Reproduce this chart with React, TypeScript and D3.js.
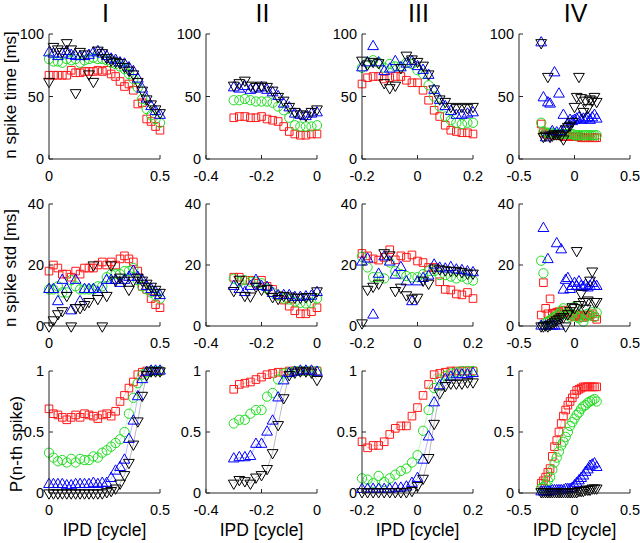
import * as d3 from 'd3';

// IPD sample positions (cycles) used by each column
const ipdI = [0, 0.02, 0.04, 0.06, 0.08, 0.1, 0.12, 0.14, 0.16, 0.18, 0.2, 0.22, 0.24, 0.26, 0.28, 0.3, 0.32, 0.34, 0.36, 0.38, 0.4, 0.42, 0.44, 0.46, 0.48, 0.5];
const ipdII = [-0.3, -0.28, -0.26, -0.24, -0.22, -0.2, -0.18, -0.16, -0.14, -0.12, -0.1, -0.08, -0.06, -0.04, -0.02, 0];
const ipdIII = [-0.2, -0.18, -0.16, -0.14, -0.12, -0.1, -0.08, -0.06, -0.04, -0.02, 0, 0.02, 0.04, 0.06, 0.08, 0.1, 0.12, 0.14, 0.16, 0.18, 0.2];
const ipdIV = [-0.3, -0.28, -0.26, -0.24, -0.22, -0.2, -0.18, -0.16, -0.14, -0.12, -0.1, -0.08, -0.06, -0.04, -0.02, 0, 0.02, 0.04, 0.06, 0.08, 0.1, 0.12, 0.14, 0.16, 0.18, 0.2];

// row 1: n spike time [ms]
const timeRedI = [67, 67, 67, 67, 67, 71, 69, 69, 70, 70, 70, 71, 70, 71, 68, 66, 62, 58, 60, 55, 44, 45, 32, 30, 26, 23];
const timeGreenI = [80, 78, 78, 77, 80, 79, 80, 77, 79, 80, 81, 80, 80, 79, 77, 76, 74, 72, 68, 64, 57, 48, 40, 35, 32, 29];
const timeBlueI = [85, 84, 82, 84, 86, 83, 82, 82, 82, 83, 85, 86, 84, 82, 80, 79, 77, 76, 73, 70, 64, 56, 48, 42, 38, 35];
const timeBlackI = [62, 90, 88, 86, 93, 88, 53, 86, 84, 68, 62, 87, 85, 81, 79, 78, 77, 74, 71, 68, 62, 55, 48, 44, 40, 37];

const timeRedII = [33, 34, 34, 33, 33, 34, 32, 31, 30, 26, 22, 20, 19, 19, 20, 20];
const timeGreenII = [47, 47, 48, 47, 46, 46, 46, 45, 42, 39, 33, 27, 26, 26, 26, 27];
const timeBlueII = [57, 56, 58, 55, 56, 57, 55, 53, 50, 44, 41, 36, 35, 34, 36, 37];
const timeBlackII = [59, 61, 63, 59, 58, 59, 58, 55, 50, 47, 42, 38, 36, 35, 38, 40];

const timeRedIII = [60, 65, 66, 66, 64, 65, 66, 66, 63, 61, 61, 55, 47, 39, 34, 27, 23, 22, 21, 21, 20];
const timeGreenIII = [73, 77, 79, 77, 73, 76, 74, 74, 77, 76, 71, 68, 59, 50, 42, 34, 31, 29, 28, 29, 29];
const timeBlueIII = [73, 77, 90, 77, 70, 72, 78, 73, 76, 78, 74, 71, 67, 55, 47, 42, 38, 35, 35, 36, 37];
const timeBlackIII = [79, 76, 78, 77, 61, 57, 59, 73, 83, 80, 78, 75, 68, 56, 48, 46, 42, 41, 42, 41, 42];

const timeRedIV = [28, 21, 20, 20, 20, 19, 19, 19, 19, 19, 18, 18, 18, 18, 18, 18, 18, 18, 17, 17, 17, 17, 17, 17, 17, 17];
const timeGreenIV = [29, 22, 21, 21, 21, 21, 20, 20, 20, 20, 20, 20, 20, 20, 20, 19, 19, 19, 19, 19, 19, 19, 19, 19, 19, 19];
const timeBlueIV = [93, 49, 17, 45, 44, 22, 69, 21, 52, 22, 35, 25, 28, 31, 30, 31, 32, 33, 31, 32, 32, 33, 31, 33, 35, 32];
const timeBlackIV = [93, 18, 19, 66, 18, 19, 20, 20, 20, 19, 16, 24, 26, 27, 30, 42, 50, 66, 49, 38, 47, 41, 48, 47, 50, 46];

// row 2: n spike std [ms]
const stdRedI = [18, 20, 19, 17, 17, 16, 18, 17, 19, 19, 19, 20, 21, 20, 21, 20, 22, 23, 22, 21, 18, 13, 12, 9, 7, 6];
const stdGreenI = [12, 12, 13, 11, 11, 15, 13, 12, 12, 12, 12, 13, 13, 16, 17, 17, 17, 18, 18, 19, 15, 13, 12, 11, 10, 9];
const stdBlueI = [12, 12, 8, 15, 12, 5, 15, 8, 12, 12, 12, 11, 12, 15, 15, 15, 14, 15, 16, 18, 16, 15, 13, 12, 11, 10];
const stdBlackI = [0, 2, 4, 5, 10, 0, 6, 6, 7, 8, 20, 9, 0, 10, 20, 15, 16, 15, 12, 15, 16, 15, 14, 13, 12, 11];

const stdRedII = [16, 16, 15, 15, 14, 15, 13, 12, 10, 8.5, 6.5, 5, 4, 4, 4.7, 6];
const stdGreenII = [15.5, 14.5, 15, 14.5, 14.5, 14, 12.3, 11, 10, 9, 8.7, 8, 7.6, 7.4, 7.6, 9];
const stdBlueII = [13, 12, 11, 13, 15, 13, 12.7, 10.7, 10, 10, 10, 9.4, 9.4, 9.6, 9.8, 11];
const stdBlackII = [11.6, 15.3, 10, 9.8, 13, 12, 12.3, 9.6, 9, 10, 9.8, 9.4, 9.4, 9.6, 9.6, 11.5];

const stdRedIII = [23.8, 23, 22, 21.6, 22.5, 25, 21.7, 23, 22.5, 23.3, 21.3, 20.8, 19.2, 19.2, 14.5, 12, 11.8, 10.5, 10.2, 11, 9];
const stdGreenIII = [22.7, 19.2, 16, 16, 15.6, 20.8, 18, 17, 16.4, 16, 16, 17, 18, 18, 16.7, 16.7, 16.2, 15.6, 16.2, 15.3, 14.9];
const stdBlueIII = [21, 22, 3.6, 17, 22.7, 21, 16.7, 19.2, 14.5, 8, 14.5, 15.6, 16.4, 20, 19, 18.7, 19.2, 18.4, 18.2, 17.8, 17.5];
const stdBlackIII = [1, 12, 13, 14, 24, 23.3, 11.6, 12.7, 10.2, 9.1, 9.4, 15, 14, 19, 18.7, 18.4, 18.2, 18.2, 17.8, 17.3, 17.3];

const stdRedIV = [3.6, 14.2, 5.8, 4, 8.9, 4.2, 4, 4.5, 4.7, 4, 5, 5.2, 4, 4.2, 3.5, 3, 3.6, 3.5, 3.3, 2.8, 3.2, 3.6, 3.5, 4, 3, 2.2];
const stdGreenIV = [21.4, 17.3, 1, 1.5, 2, 2.5, 3, 3.5, 4, 5, 5.8, 4, 3.5, 3, 4, 6.3, 3, 2.5, 3.5, 1.4, 3, 4, 3.5, 4.5, 3, 4.4];
const stdBlueIV = [0, 32, 0, 21.8, 0, 0, 0, 27, 0, 25, 11.8, 15, 15.6, 12, 13, 14, 13, 14.5, 13, 12.7, 13.4, 12.5, 13, 14, 13, 13];
const stdBlackIV = [0, 0, 0.3, 0, 0.5, 1, 1.5, 2, 2.5, 3, 3, 0, 4, 5, 6.3, 6, 24.7, 7, 10.7, 8, 5.8, 8.5, 15, 18, 8, 8];

// row 3: P(n-th spike)
const probRedI = [0.69, 0.65, 0.64, 0.62, 0.6, 0.62, 0.64, 0.62, 0.65, 0.64, 0.63, 0.61, 0.64, 0.65, 0.63, 0.67, 0.75, 0.8, 0.86, 0.91, 0.97, 0.99, 1, 1, 1, 1];
const probGreenI = [0.33, 0.29, 0.26, 0.27, 0.25, 0.28, 0.25, 0.28, 0.27, 0.27, 0.3, 0.29, 0.33, 0.35, 0.38, 0.41, 0.44, 0.5, 0.65, 0.78, 0.9, 0.97, 0.99, 1, 1, 1];
const probBlueI = [0.07, 0.07, 0.07, 0.07, 0.06, 0.06, 0.07, 0.07, 0.07, 0.07, 0.08, 0.07, 0.08, 0.08, 0.12, 0.18, 0.21, 0.27, 0.44, 0.59, 0.79, 0.93, 0.99, 1, 1, 1];
const probBlackI = [0, 0, 0, 0, 0, 0, 0, 0, 0, 0, 0, 0, 0, 0.01, 0.02, 0.04, 0.08, 0.15, 0.25, 0.4, 0.59, 0.8, 0.97, 1, 1, 1];

const probRedII = [0.85, 0.89, 0.9, 0.91, 0.93, 0.95, 0.97, 0.98, 0.99, 0.99, 1, 1, 1, 1, 1, 1];
const probGreenII = [0.57, 0.6, 0.6, 0.65, 0.68, 0.68, 0.79, 0.82, 0.93, 0.98, 0.99, 1, 1, 1, 1, 1];
const probBlueII = [0.28, 0.29, 0.29, 0.3, 0.4, 0.4, 0.5, 0.59, 0.78, 0.92, 0.98, 0.99, 1, 1, 1, 0.99];
const probBlackII = [0.08, 0.11, 0.1, 0.08, 0.13, 0.15, 0.2, 0.33, 0.56, 0.78, 0.97, 0.99, 1, 1, 0.99, 0.93];

const probRedIII = [0.42, 0.37, 0.39, 0.39, 0.42, 0.48, 0.53, 0.55, 0.55, 0.63, 0.7, 0.8, 0.89, 0.97, 0.98, 0.99, 1, 1, 1, 1, 1];
const probGreenIII = [0.12, 0.11, 0.08, 0.14, 0.09, 0.12, 0.15, 0.18, 0.2, 0.25, 0.31, 0.51, 0.68, 0.86, 0.93, 0.96, 0.98, 0.99, 1, 1, 1];
const probBlueIII = [0.03, 0.03, 0.03, 0.03, 0.03, 0.03, 0.04, 0.04, 0.05, 0.08, 0.12, 0.27, 0.46, 0.74, 0.88, 0.93, 0.95, 0.97, 0.97, 0.97, 0.98];
const probBlackIII = [0.01, 0.01, 0.01, 0.01, 0.01, 0.01, 0.01, 0.01, 0.01, 0.02, 0.06, 0.12, 0.29, 0.57, 0.82, 0.88, 0.9, 0.9, 0.9, 0.91, 0.91];

const probRedIV = [0.08, 0.1, 0.13, 0.17, 0.2, 0.3, 0.38, 0.43, 0.5, 0.57, 0.63, 0.68, 0.72, 0.75, 0.78, 0.81, 0.84, 0.85, 0.86, 0.87, 0.87, 0.87, 0.87, 0.87, 0.87, 0.87];
const probGreenIV = [0.04, 0.05, 0.07, 0.1, 0.13, 0.19, 0.25, 0.29, 0.34, 0.39, 0.42, 0.46, 0.5, 0.55, 0.58, 0.61, 0.64, 0.66, 0.69, 0.71, 0.72, 0.74, 0.75, 0.76, 0.77, 0.75];
const probBlueIV = [0.01, 0.01, 0.01, 0.01, 0.01, 0.02, 0.02, 0.02, 0.02, 0.02, 0.02, 0.03, 0.03, 0.03, 0.04, 0.06, 0.08, 0.1, 0.12, 0.14, 0.17, 0.19, 0.22, 0.23, 0.24, 0.21];
const probBlackIV = [0.01, 0.01, 0.01, 0.01, 0.01, 0.01, 0.01, 0.01, 0.01, 0.01, 0.01, 0.01, 0.01, 0.01, 0.01, 0.01, 0.01, 0.02, 0.02, 0.02, 0.03, 0.03, 0.03, 0.04, 0.04, 0.04];

// axes
const colTitles = ['I', 'II', 'III', 'IV'];
const xDomains = [[0, 0.5], [-0.4, 0], [-0.2, 0.2], [-0.5, 0.5]];
const xTickVals = [[0, 0.5], [-0.4, -0.2, 0], [-0.2, 0, 0.2], [-0.5, 0, 0.5]];
const yDomains = [[0, 100], [0, 40], [0, 1]];
const yTickVals = [[0, 50, 100], [0, 20, 40], [0, 0.5, 1]];
const yLabels = ['n spike time [ms]', 'n spike std [ms]', 'P(n-th spike)'];
const xLabel = 'IPD [cycle]';

const ipd = [ipdI, ipdII, ipdIII, ipdIV];
const grid = [
  [[timeRedI, timeGreenI, timeBlueI, timeBlackI], [timeRedII, timeGreenII, timeBlueII, timeBlackII], [timeRedIII, timeGreenIII, timeBlueIII, timeBlackIII], [timeRedIV, timeGreenIV, timeBlueIV, timeBlackIV]],
  [[stdRedI, stdGreenI, stdBlueI, stdBlackI], [stdRedII, stdGreenII, stdBlueII, stdBlackII], [stdRedIII, stdGreenIII, stdBlueIII, stdBlackIII], [stdRedIV, stdGreenIV, stdBlueIV, stdBlackIV]],
  [[probRedI, probGreenI, probBlueI, probBlackI], [probRedII, probGreenII, probBlueII, probBlackII], [probRedIII, probGreenIII, probBlueIII, probBlackIII], [probRedIV, probGreenIV, probBlueIV, probBlackIV]],
];

const FONT = '"Liberation Sans", Arial, Helvetica, sans-serif';
const W = 640;
const H = 543;
const colLeft = [49, 206, 362, 519];
const colWidth = 111;
const rowTop = [34, 204, 371];
const rowBottom = [159, 326, 493];
const yLabelPos = [
  [10, 95],
  [10, 268],
  [16, 444],
];
const TICK_FS = 14.5;

// square, circle, triangle up, triangle down (MATLAB s, o, ^, v)
const markers = [
  { color: '#ff1a1a', d: d3.symbol().type(d3.symbolSquare).size(58)() ?? '', rot: 0 },
  { color: '#22dd22', d: d3.symbol().type(d3.symbolCircle).size(68)() ?? '', rot: 0 },
  { color: '#0000ff', d: d3.symbol().type(d3.symbolTriangle).size(50)() ?? '', rot: 0 },
  { color: '#000000', d: d3.symbol().type(d3.symbolTriangle).size(50)() ?? '', rot: 180 },
];

function Panel({ r, c }: { r: number; c: number }) {
  const x = d3.scaleLinear().domain(xDomains[c]).range([colLeft[c], colLeft[c] + colWidth]);
  const y = d3.scaleLinear().domain(yDomains[r]).range([rowBottom[r], rowTop[r]]);
  const xs = ipd[c];
  const line = d3
    .line<number>()
    .x((_, i) => x(xs[i]))
    .y((v) => y(v));
  const x0 = colLeft[c];
  const yb = rowBottom[r];

  return (
    <g>
      {r === 2 &&
        grid[r][c].map((vals, k) => (
          <path key={'l' + k} d={line(vals) ?? ''} fill="none" stroke={markers[k].color} strokeOpacity={0.35} strokeWidth={0.8} />
        ))}
      {grid[r][c].map((vals, k) => (
        <g key={'m' + k}>
          {vals.map((v, i) => (
            <path
              key={i}
              d={markers[k].d}
              transform={`translate(${x(xs[i])},${y(v)})${markers[k].rot ? ' rotate(180)' : ''}`}
              fill="none"
              stroke={markers[k].color}
              strokeWidth={1}
            />
          ))}
        </g>
      ))}
      <line x1={x0} x2={x0} y1={rowTop[r]} y2={yb} stroke="#262626" strokeWidth={1} />
      <line x1={x0} x2={x0 + colWidth} y1={yb} y2={yb} stroke="#262626" strokeWidth={1} />
      {yTickVals[r].map((t) => (
        <g key={'y' + t}>
          <line x1={x0} x2={x0 + 4} y1={y(t)} y2={y(t)} stroke="#262626" />
          <text x={x0 - 5} y={y(t)} dy="0.35em" textAnchor="end" fontSize={TICK_FS} fontFamily={FONT}>
            {String(t)}
          </text>
        </g>
      ))}
      {xTickVals[c].map((t) => (
        <g key={'x' + t}>
          <line x1={x(t)} x2={x(t)} y1={yb} y2={yb - 4} stroke="#262626" />
          <text x={x(t)} y={yb + 21.5} textAnchor="middle" fontSize={TICK_FS} fontFamily={FONT}>
            {String(t)}
          </text>
        </g>
      ))}
    </g>
  );
}

export default function App() {
  return (
    <svg width={W} height={H} style={{ position: 'absolute', left: 0, top: 0, background: '#fff' }}>
      <rect width={W} height={H} fill="#fff" />
      {colTitles.map((t, c) => (
        <text key={t} x={colLeft[c] + colWidth / 2 + 1} y={22} textAnchor="middle" fontSize={25} fontFamily={FONT}>
          {t}
        </text>
      ))}
      {yLabels.map((t, r) => (
        <text
          key={t}
          transform={`translate(${yLabelPos[r][0]},${yLabelPos[r][1]}) rotate(-90)`}
          dy="0.35em"
          textAnchor="middle"
          fontSize={17}
          fontFamily={FONT}
        >
          {t}
        </text>
      ))}
      {colTitles.map((_, c) => (
        <text key={'xl' + c} x={colLeft[c] + colWidth / 2} y={536} textAnchor="middle" fontSize={17.5} fontFamily={FONT}>
          {xLabel}
        </text>
      ))}
      {[0, 1, 2].map((r) => colTitles.map((_, c) => <Panel key={`${r}-${c}`} r={r} c={c} />))}
    </svg>
  );
}
